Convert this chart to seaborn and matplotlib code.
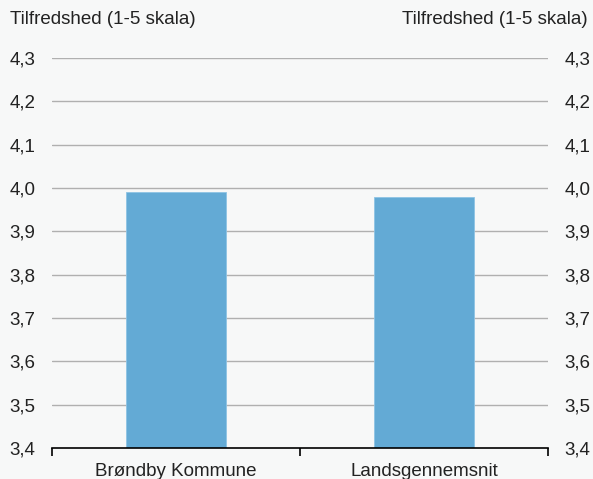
import pandas as pd
import seaborn as sns
import matplotlib.pyplot as plt
from matplotlib.ticker import FuncFormatter, FixedLocator

# Data
categories = ["Brøndby Kommune", "Landsgennemsnit"]
values = [3.99, 3.98]
y_ticks = [3.4, 3.5, 3.6, 3.7, 3.8, 3.9, 4.0, 4.1, 4.2, 4.3]
axis_title = "Tilfredshed (1-5 skala)"

sns.set_theme(style="white")
plt.rcParams['font.family'] = ['Liberation Sans', 'DejaVu Sans']

BG = "#F7F8F8"
BAR = "#63AAD5"
GRID = "#B0B0B0"
FS = 13.5

df = pd.DataFrame({"Kategori": categories, "Værdi": values})

fig = plt.figure(figsize=(5.93, 4.79), dpi=100, facecolor=BG)
ax = fig.add_axes([52 / 593, 31 / 479, 496 / 593, 390 / 479])
ax.set_facecolor(BG)

sns.barplot(data=df, x="Kategori", y="Værdi", color=BAR, width=0.4,
            saturation=1, edgecolor="#8EC3E4", linewidth=0.6, ax=ax, zorder=3)

ax.set_ylim(y_ticks[0], y_ticks[-1])
ax.set_xlim(-0.5, len(categories) - 0.5)
ax.set_yticks(y_ticks)
fmt = FuncFormatter(lambda v, p: f"{v:.1f}".replace(".", ","))
ax.yaxis.set_major_formatter(fmt)

for t in y_ticks[1:]:
    ax.axhline(t, color=GRID, lw=1.0, zorder=1)

for s in ["top", "left", "right"]:
    ax.spines[s].set_visible(False)
ax.spines["bottom"].set_color("black")
ax.spines["bottom"].set_linewidth(1.2)
ax.spines["bottom"].set_zorder(4)

ax.tick_params(axis="y", left=False, right=False, length=0, labelleft=True, labelright=True,
               labelsize=FS, labelcolor="#222222", pad=12)
ax.tick_params(axis="x", which="major", length=0, labelsize=FS, labelcolor="#222222", pad=11)
ax.xaxis.set_minor_locator(FixedLocator([-0.5, 0.5, 1.5]))
ax.tick_params(axis="x", which="minor", bottom=True, length=6, width=1.2, color="black")

ax.set_xlabel("")
ax.set_ylabel("")

fig.text(10 / 593, 1 - 20 / 479, axis_title, ha="left", va="center", fontsize=FS, color="#222222")
fig.text(588 / 593, 1 - 20 / 479, axis_title, ha="right", va="center", fontsize=FS, color="#222222")

fig.savefig("out.png", dpi=100, facecolor=BG)
